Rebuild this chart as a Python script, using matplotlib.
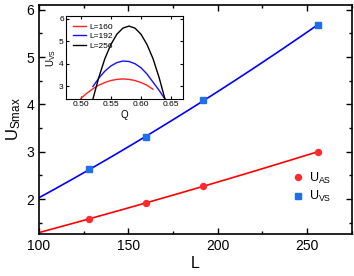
import numpy as np
import matplotlib
matplotlib.use('Agg')
import matplotlib.pyplot as plt
from matplotlib.ticker import MultipleLocator

plt.rcParams['font.family'] = ['Liberation Sans', 'DejaVu Sans']
plt.rcParams['mathtext.fontset'] = 'custom'
plt.rcParams['mathtext.rm'] = 'Liberation Sans'
plt.rcParams['mathtext.it'] = 'Liberation Sans'

# main data: maximum U vs system size L
L = np.array([128, 160, 192, 256])
u_as = np.array([1.58, 1.92, 2.27, 3.00])
u_vs = np.array([2.63, 3.30, 4.10, 5.68])

# inset data: U_VS vs Q for three sizes
q_160 = [0.50, 0.51, 0.52, 0.53, 0.54, 0.55, 0.56, 0.57, 0.58, 0.59, 0.60, 0.61, 0.62]
u_160 = [2.45, 2.68, 2.88, 3.04, 3.16, 3.25, 3.30, 3.32, 3.30, 3.25, 3.16, 3.04, 2.86]
q_192 = [0.52, 0.53, 0.54, 0.55, 0.56, 0.57, 0.58, 0.59, 0.60, 0.61, 0.62, 0.63, 0.64]
u_192 = [2.98, 3.36, 3.67, 3.90, 4.05, 4.12, 4.10, 4.00, 3.82, 3.54, 3.18, 2.82, 2.42]
q_256 = [0.52, 0.53, 0.54, 0.55, 0.56, 0.57, 0.58, 0.59, 0.60, 0.61, 0.62, 0.63, 0.64]
u_256 = [2.42, 3.40, 4.23, 4.86, 5.32, 5.59, 5.68, 5.59, 5.32, 4.86, 4.23, 3.40, 2.42]

# quadratic fits through the points
L_fit = np.linspace(100, 256, 100)
fit_as = np.polyval(np.polyfit(L, u_as, 2), L_fit)
fit_vs = np.polyval(np.polyfit(L, u_vs, 2), L_fit)

fig = plt.figure(figsize=(3.54, 2.76), dpi=100)
ax = fig.add_axes([0.110, 0.152, 0.884, 0.830])

ax.plot(L_fit, fit_as, color='#ff0000', lw=1.2)
ax.plot(L_fit, fit_vs, color='#0000ff', lw=1.2)
ax.plot(L, u_as, 'o', color='#ff2a2a', ms=4.3, label='U$_{AS}$')
ax.plot(L, u_vs, 's', color='#1f6fe8', ms=4, label='U$_{VS}$')

ax.set_xlim(100, 275)
ax.set_ylim(1.26, 6.1)
ax.xaxis.set_major_locator(MultipleLocator(50))
ax.xaxis.set_minor_locator(MultipleLocator(25))
ax.yaxis.set_major_locator(MultipleLocator(1))
ax.yaxis.set_minor_locator(MultipleLocator(0.5))
ax.tick_params(which='both', direction='in', top=True, right=True, labelsize=10, width=1)
ax.tick_params(which='major', length=4)
ax.tick_params(which='minor', length=2.5)
for s in ax.spines.values():
    s.set_linewidth(1.2)
ax.set_xlabel('L', fontsize=11.5, labelpad=2)
ax.set_ylabel('U$_{Smax}$', fontsize=12, labelpad=2)
ax.legend(loc='lower right', bbox_to_anchor=(0.97, 0.08), frameon=False, fontsize=9,
          handletextpad=0.3, labelspacing=0.3, handlelength=1.2)

# inset
ins = fig.add_axes([0.186, 0.641, 0.331, 0.301])
ins.plot(q_160, u_160, color='#ff2020', lw=1, label='L=160')
ins.plot(q_192, u_192, color='#1010ff', lw=1, label='L=192')
ins.plot(q_256, u_256, color='black', lw=1, label='L=256')
ins.set_xlim(0.475, 0.67)
ins.set_ylim(2.42, 6.13)
ins.yaxis.set_major_locator(MultipleLocator(1))
ins.set_xticks([0.50, 0.55, 0.60, 0.65], ['0.50', '0.55', '0.60', '0.65'])
ins.tick_params(direction='in', top=True, right=True, labelsize=6, length=2, pad=1.5)
ins.set_xlabel('Q', fontsize=7, labelpad=1)
ins.set_ylabel('U$_{VS}$', fontsize=7, labelpad=1)
ins.legend(loc='upper left', frameon=False, fontsize=6, handlelength=1.6,
           labelspacing=0.2, handletextpad=0.4, borderpad=0.3)

fig.savefig('out.png', dpi=100)
